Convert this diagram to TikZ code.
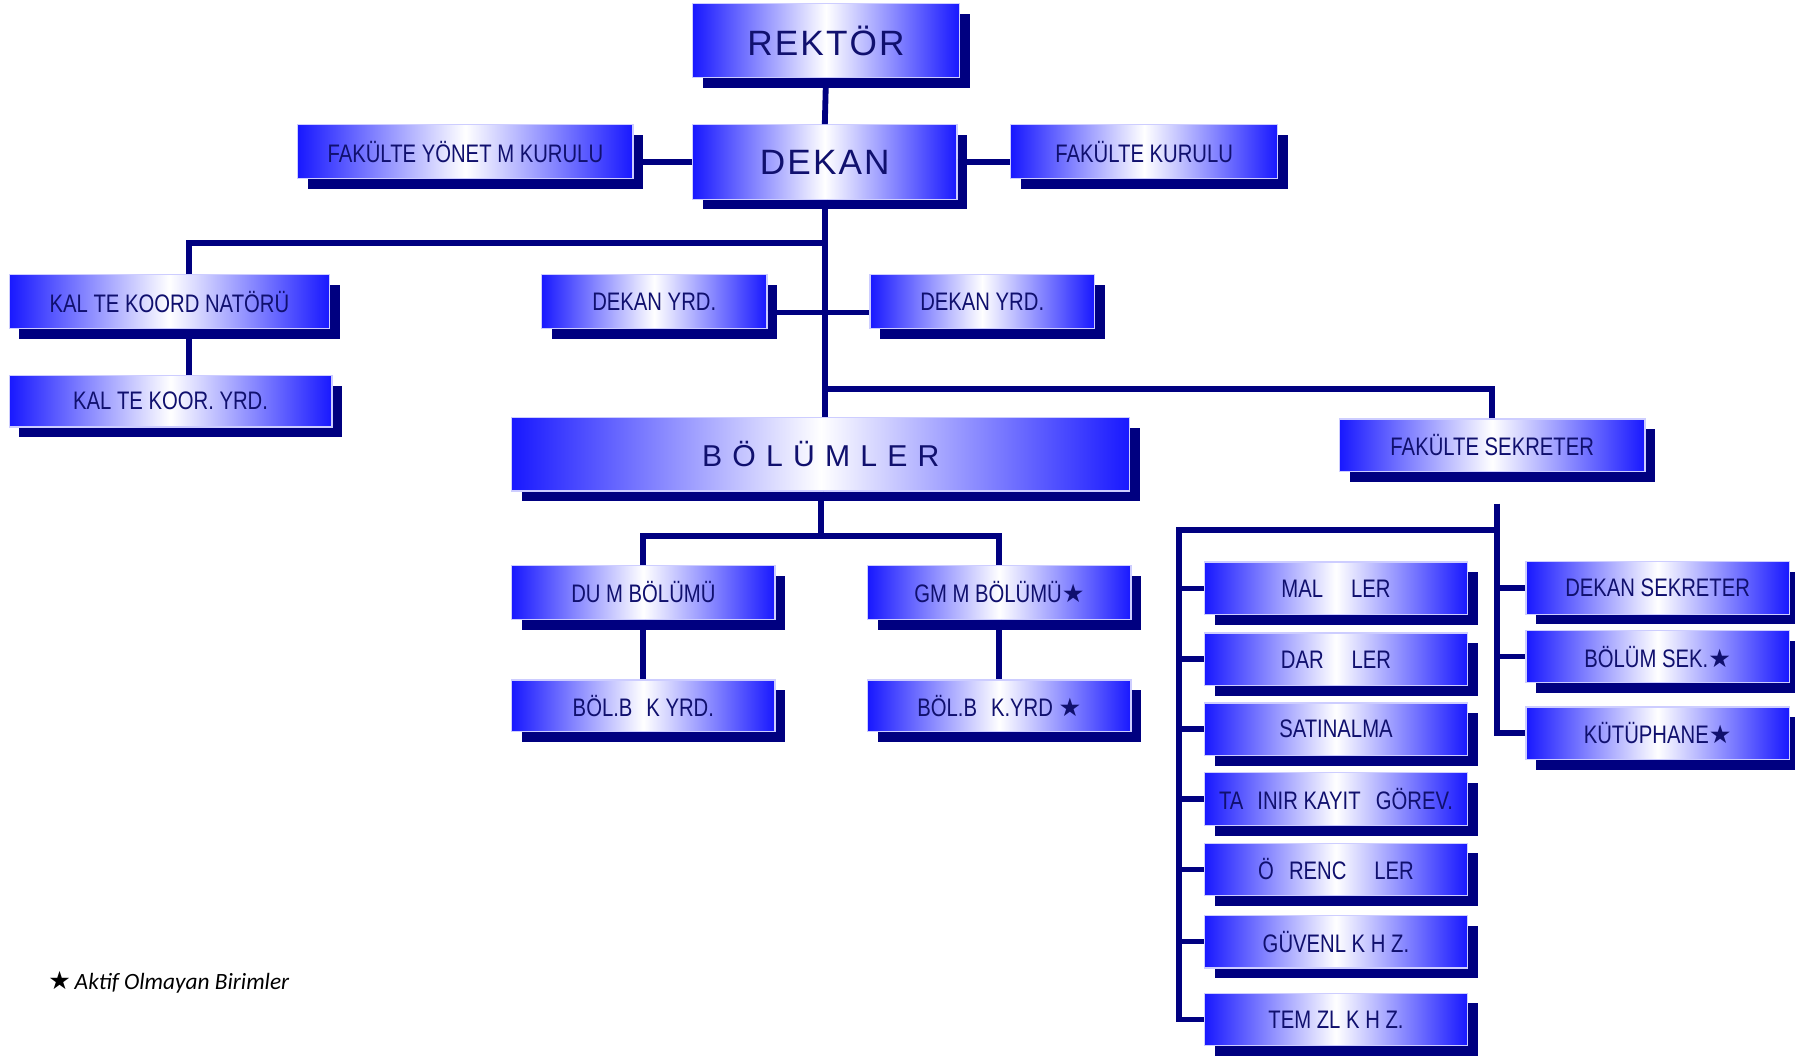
\documentclass[tikz,border=0pt]{standalone}
\usepackage{fontspec}
\usepackage{tikz}
\usetikzlibrary{positioning}
\usetikzlibrary{shadows}
\newfontfamily\boxfont[FakeStretch=0.8]{Liberation Sans}
\newfontfamily\titlefont[LetterSpace=6]{Liberation Sans}
\newfontfamily\notefont{Carlito}
\newfontfamily\starfont{DejaVu Sans}
\newcommand{\pasif}{{\starfont ★}}
\definecolor{unitblue}{RGB}{24,24,255}
\definecolor{navyline}{RGB}{0,0,128}
\definecolor{navytext}{RGB}{16,16,110}
\definecolor{rimcolor}{RGB}{205,205,255}
\tikzset{unit/.style = {rectangle, draw=rimcolor, line width=0.6pt,
                        left color=unitblue, right color=unitblue, middle color=white,
                        text=navytext, font=\boxfont\fontsize{12.6}{14}\selectfont,
                        inner sep=0pt,
                        drop shadow={shadow xshift=0.18cm, shadow yshift=-0.18cm,
                                     fill=navyline, opacity=1}},
         head/.style = {unit, font=\titlefont\fontsize{17.5}{20}\selectfont},
         sube/.style = {unit, minimum width=4.60cm, minimum height=0.92cm},
         link/.style = {draw=navyline, line width=2.9pt}}

\begin{document}
\begin{tikzpicture}[x=0.02cm, y=-0.02cm]
  \useasboundingbox (0,0) rectangle (1568,922);

  \node[head, minimum width=4.66cm, minimum height=1.30cm] (rektor) at (721.5,35.5) {REKTÖR};
  \node[head, minimum width=4.62cm, minimum height=1.30cm] (dekan) at (720.5,141.5) {DEKAN};
  \node[unit, minimum width=5.86cm, minimum height=0.94cm] (yonetim) at (406.5,132.5) {FAKÜLTE YÖNET M KURULU};
  \node[unit, minimum width=4.66cm, minimum height=0.94cm] (kurul) at (999.5,132.5) {FAKÜLTE KURULU};

  \node[unit, minimum width=5.60cm, minimum height=0.94cm] (kalite) at (148,263.5) {KAL TE KOORD NATÖRÜ};
  \node[unit, minimum width=5.64cm, minimum height=0.90cm] (kaliteyrd) at (149,350.5) {KAL TE KOOR. YRD.};
  \node[unit, minimum width=3.94cm, minimum height=0.94cm] (yrdsol) at (571.5,263.5) {DEKAN YRD.};
  \node[unit, minimum width=3.92cm, minimum height=0.94cm] (yrdsag) at (858,263.5) {DEKAN YRD.};

  \node[head, font=\titlefont\fontsize{15}{17}\selectfont, minimum width=10.8cm, minimum height=1.28cm] (bolumler) at (717,397) {B Ö L Ü M L E R};
  \node[unit, minimum width=5.34cm, minimum height=0.92cm] (sekreter) at (1303.5,389) {FAKÜLTE SEKRETER};

  \node[unit, minimum width=4.60cm, minimum height=0.94cm] (duim) at (562,517.5) {DU M BÖLÜMÜ};
  \node[unit, minimum width=4.60cm, minimum height=0.94cm] (gmim) at (873,517.5) {GM M BÖLÜMÜ\pasif};
  \node[unit, minimum width=4.60cm, minimum height=0.90cm] (duimyrd) at (562,616.5) {BÖL.B\hspace{0.55em}K YRD.};
  \node[unit, minimum width=4.60cm, minimum height=0.90cm] (gmimyrd) at (873,616.5) {BÖL.B\hspace{0.55em}K.YRD \pasif};

  % sekreterlige bagli birimler
  \node[sube] (mali) at (1167,514) {MAL\hspace{1.1em}LER};
  \node[sube] (idari) at (1167,576) {DAR\hspace{1.1em}LER};
  \node[sube] (satin) at (1167,637) {SATINALMA};
  \node[sube] (tasinir) at (1167,698) {TA\hspace{0.55em}INIR KAYIT\hspace{0.6em}GÖREV.};
  \node[sube] (ogrenci) at (1167,759.5) {Ö\hspace{0.6em}RENC\hspace{1.1em}LER};
  \node[sube] (guvenlik) at (1167,822.5) {GÜVENL K H Z.};
  \node[sube] (temizlik) at (1167,890.5) {TEM ZL K H Z.};
  \node[sube] (deksek) at (1448,513.5) {DEKAN SEKRETER};
  \node[sube] (bolsek) at (1448,573.5) {BÖLÜM SEK.\pasif};
  \node[sube] (kutup) at (1448,640.5) {KÜTÜPHANE\pasif};

  \node[anchor=west, text=black, font=\notefont\itshape\fontsize{11.6}{14}\selectfont] (not) at (36,858)
    {{\starfont\upshape\fontsize{12.5}{14}\selectfont ★}\,Aktif Olmayan Birimler};

  % baglantilar
  \coordinate (kalj) at (165,212);
  \coordinate (yrdj) at (720,273);
  \coordinate (sekj) at (720,340);
  \coordinate (bolj) at (719,468);
  \coordinate (alt) at (1308,440);
  \coordinate (solj) at (1030,463);

  \draw[link] (rektor.south) -- (dekan.north);
  \draw[link] (dekan.west) -- (dekan.west -| yonetim.east);
  \draw[link] (dekan.east) -- (dekan.east -| kurul.west);
  \draw[link] (dekan.south) -- (dekan.south |- bolumler.north);
  \draw[link] (dekan.south |- kalj) -- (kalj) -- (kalj |- kalite.north);
  \draw[link] (kalite.south -| kalj) -- (kaliteyrd.north -| kalj);
  \draw[link] (yrdj -| yrdsol.east) -- (yrdj -| yrdsag.west);
  \draw[link] (sekj) -| (sekreter.north);

  \draw[link] (bolumler.south) -- (bolumler.south |- bolj);
  \draw[link] (duim.north) |- (bolj) -| (gmim.north);
  \draw[link] (duim.south) -- (duimyrd.north);
  \draw[link] (gmim.south) -- (gmimyrd.north);

  \draw[link] (alt) -- (alt |- kutup.west) -- (kutup.west);
  \draw[link] (alt |- solj) -- (solj) -- (solj |- temizlik.west) -- (temizlik.west);
  \foreach \n in {mali, idari, satin, tasinir, ogrenci, guvenlik}
    \draw[link] (solj |- \n.west) -- (\n.west);
  \foreach \n in {deksek, bolsek}
    \draw[link] (alt |- \n.west) -- (\n.west);
\end{tikzpicture}
\end{document}
